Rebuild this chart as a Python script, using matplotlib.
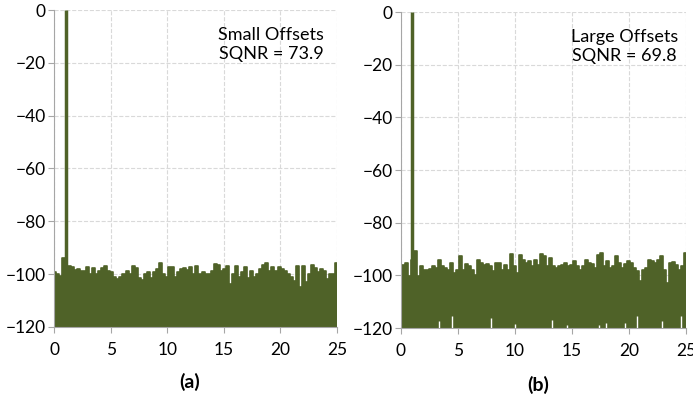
import numpy as np
import matplotlib.pyplot as plt

plt.rcParams['font.family'] = ['Lato', 'DejaVu Sans']

# noise floor envelope (dB), evenly spread over 0..25
floor_a = [-99.4, -100.0, -100.6, -93.8, -96.9, -96.9, -97.5, -98.5, -98.1, -99.0,
           -98.8, -97.3, -100.0, -97.8, -100.0, -99.0, -97.8, -96.9, -98.8, -99.4,
           -101.2, -101.9, -101.0, -100.0, -98.8, -100.0, -96.9, -97.8, -101.5, -102.2,
           -100.0, -99.4, -101.5, -99.4, -98.1, -96.0, -100.0, -101.2, -97.3, -97.5,
           -101.2, -99.4, -98.1, -97.8, -98.5, -97.3, -100.0, -96.9, -100.0, -99.4,
           -100.0, -100.0, -99.0, -96.3, -96.5, -98.8, -98.1, -96.9, -103.7, -100.0,
           -96.9, -101.2, -99.4, -97.3, -101.5, -98.8, -101.2, -100.0, -98.1, -96.5,
           -95.7, -98.8, -97.5, -99.0, -97.3, -98.1, -98.8, -100.0, -101.2, -102.5,
           -96.9, -104.9, -96.9, -103.1, -100.0, -96.5, -97.8, -99.4, -98.1, -98.8,
           -101.9, -99.8, -100.0, -96.0]

floor_b = [-100.4, -96.0, -95.3, -100.4, -94.3, -90.9, -100.1, -96.6, -97.8, -98.1,
           -97.6, -96.6, -97.2, -94.3, -96.6, -97.2, -97.8, -95.3, -99.1, -98.1,
           -92.8, -97.8, -95.6, -96.3, -97.8, -99.7, -94.1, -95.3, -96.0, -95.6,
           -96.6, -98.5, -95.3, -95.3, -97.8, -96.0, -97.8, -91.8, -96.6, -99.1,
           -92.2, -94.1, -95.3, -94.7, -96.3, -94.1, -96.0, -91.8, -92.8, -96.6,
           -93.4, -96.6, -97.2, -96.6, -96.0, -95.3, -96.6, -96.0, -94.7, -96.6,
           -97.8, -96.6, -94.1, -95.3, -95.6, -97.2, -92.2, -91.5, -96.6, -94.7,
           -97.2, -96.6, -92.8, -95.3, -97.2, -95.6, -94.7, -95.3, -97.2, -98.5,
           -102.3, -98.1, -97.2, -94.1, -94.7, -95.3, -94.1, -92.8, -97.8, -102.9,
           -95.3, -94.9, -96.0, -97.8, -96.6, -91.5]

# signal tone
tone_a = 1.1
tone_b = 1.0

# deep dips in (b) reaching up from the bottom
dip_x = [3.35, 4.5, 7.9, 10.0, 13.3, 14.6, 17.4, 18.0, 19.7, 20.7, 22.9, 24.6]
dip_top = [-117.5, -115.6, -116.2, -118.5, -116.8, -118.7, -118.7, -118.1, -118.1, -115.6, -117.5, -115.6]

labels = ["Small Offsets\nSQNR = 73.9", "Large Offsets\nSQNR = 69.8"]
captions = ["(a)", "(b)"]

green = '#4f6228'
grey = '#a6a6a6'

fig = plt.figure(figsize=(6.93, 4.05), dpi=100)
ax_a = fig.add_axes([0.078, 0.193, 0.408, 0.782])
ax_b = fig.add_axes([0.5786, 0.190, 0.411, 0.780])

for ax, floor, tone, label, tx in [(ax_a, floor_a, tone_a, labels[0], 19.2),
                                   (ax_b, floor_b, tone_b, labels[1], 19.6)]:
    x = np.linspace(0, 25, len(floor))
    ax.fill_between(x, -120, floor, color=green, lw=0, step='mid')
    ax.plot(x, floor, color=green, lw=1.2, drawstyle='steps-mid')
    ax.vlines(tone, -120, 0, color=green, lw=2.5)
    ax.set_xlim(0, 25)
    ax.set_ylim(-120, 0)
    ax.set_xticks(range(0, 26, 5))
    ax.set_yticks(range(-120, 1, 20))
    ax.grid(True, color='#d9d9d9', ls='--', lw=0.8)
    ax.set_axisbelow(True)
    for s in ['top', 'right']:
        ax.spines[s].set_visible(False)
    for s in ['left', 'bottom']:
        ax.spines[s].set_color(grey)
    ax.tick_params(colors=grey, labelcolor='black', labelsize=12.5, length=4)
    ax.tick_params(axis='x', pad=7)
    ax.tick_params(axis='y', pad=2)
    ax.text(tx, -13, label, ha='center', va='center', fontsize=13, linespacing=1.25)

ax_b.vlines(dip_x, -120, dip_top, color='white', lw=1)

fig.text(0.274, 0.057, captions[0], ha='center', va='center', fontsize=14, fontweight='bold')
fig.text(0.776, 0.050, captions[1], ha='center', va='center', fontsize=14, fontweight='bold')

fig.savefig('out.png', dpi=100)
